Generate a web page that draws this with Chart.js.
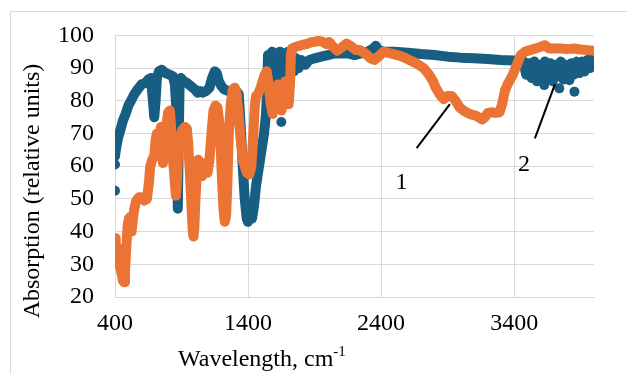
<!DOCTYPE html>
<html>
<head>
<meta charset="utf-8">
<script src="https://cdn.jsdelivr.net/npm/chart.js@4"></script>
<style>
  html, body { margin: 0; padding: 0; background: #fff; }
</style>
</head>
<body>
<canvas id="chart" width="627" height="374"></canvas>
<script>
// sample 2 (blue) - wavenumber / absorption
const blueX = [400, 410, 425, 440, 460, 480, 500, 520, 545, 570, 600, 630, 650, 670, 685, 695, 705, 715, 730, 750,
  780, 810, 835, 850, 860, 868, 872, 878, 885, 895, 915, 940, 970, 1000, 1020, 1040, 1060, 1085, 1110, 1130,
  1150, 1165, 1180, 1200, 1220, 1250, 1280, 1310, 1330, 1345, 1360, 1375, 1390, 1400, 1415, 1430, 1445, 1460, 1475, 1490,
  1505, 1520, 1535, 1545, 1550, 1565, 1580, 1595, 1610, 1625, 1640, 1655, 1670, 1685, 1700, 1715, 1730, 1745, 1760, 1780,
  1800, 1830, 1860, 1900, 1950, 2000, 2050, 2100, 2150, 2200, 2250, 2300, 2340, 2360, 2380, 2420, 2500, 2600, 2700, 2800,
  2900, 3000, 3100, 3200, 3300, 3400, 3450, 3470, 3490, 3510, 3530, 3550, 3570, 3590, 3610, 3630, 3650, 3670, 3690, 3710,
  3730, 3750, 3770, 3790, 3810, 3830, 3850, 3870, 3890, 3910, 3930, 3950, 3970, 3990, 4000];
const blueY = [63, 66, 69, 71, 74, 76, 78.5, 80, 82, 83.5, 85, 85.5, 86.5, 87, 80, 75, 80, 87, 89, 89.5,
  88.5, 88, 87.5, 85, 78, 60, 47, 65, 84, 87, 86, 85.5, 84.5, 83.5, 82.5, 83, 82.5, 83, 84, 87,
  89, 88.5, 86, 84.5, 83.5, 83, 82.5, 83, 82, 72, 60, 50, 44, 43, 46, 44, 48, 54, 58, 62,
  66, 70, 76, 85, 94, 88, 95, 87, 94, 89, 95, 86, 94, 88, 95, 90, 94, 89, 93, 90,
  92.5, 91, 92.5, 93, 93.5, 94, 94.5, 94.5, 94.5, 94, 94.5, 95, 96, 96.8, 95.5, 95, 95, 94.7, 94.3, 94,
  93.5, 93.2, 93, 92.8, 92.5, 92.3, 92, 92, 88, 91.5, 87, 92, 86, 91, 86.5, 92, 87, 91.5, 86, 91,
  87.5, 92, 86.5, 91, 87, 91.5, 88, 92, 88.5, 92, 89, 92.5, 90, 93, 93.5];
// loose blue points
const blueDotX = [400, 400, 1650, 3576, 3626, 3739, 3815, 3853];
const blueDotY = [52.5, 60.5, 73.5, 86.3, 84.8, 83.8, 86.3, 82.8];

// sample 1 (orange)
const orangeX = [400, 405, 410, 415, 420, 425, 430, 440, 450, 460, 468, 475, 485, 495, 505, 515, 525, 535, 545, 560,
  580, 600, 620, 640, 655, 665, 680, 695, 705, 715, 725, 735, 745, 752, 760, 770, 785, 800, 812, 820,
  830, 840, 850, 858, 865, 875, 890, 905, 925, 940, 950, 960, 970, 978, 985, 990, 996, 1005, 1015, 1025,
  1040, 1055, 1065, 1080, 1095, 1110, 1125, 1140, 1155, 1170, 1185, 1195, 1205, 1215, 1225, 1235, 1245, 1255, 1270, 1285,
  1300, 1315, 1330, 1345, 1360, 1375, 1390, 1410, 1425, 1440, 1450, 1460, 1475, 1495, 1510, 1525, 1540, 1555, 1570, 1585,
  1600, 1615, 1625, 1640, 1650, 1660, 1670, 1680, 1695, 1705, 1715, 1722, 1730, 1760, 1800, 1850, 1880, 1900, 1930, 1960,
  1990, 2010, 2040, 2070, 2100, 2140, 2180, 2210, 2240, 2280, 2320, 2350, 2380, 2420, 2470, 2520, 2570, 2620, 2670, 2720,
  2760, 2790, 2810, 2840, 2870, 2900, 2930, 2960, 2990, 3020, 3050, 3080, 3110, 3140, 3160, 3180, 3200, 3230, 3260, 3290,
  3310, 3330, 3350, 3370, 3390, 3410, 3430, 3450, 3480, 3520, 3560, 3600, 3630, 3660, 3700, 3750, 3800, 3850, 3900, 3950, 4000];
const orangeY = [38, 36, 33, 31, 35, 30, 33, 29, 27, 25, 24.5, 28, 35, 42, 44, 44.5, 40, 44, 47, 49.5,
  50.5, 50.5, 49.5, 50, 55, 60, 62, 63, 68, 70, 69, 66, 72, 65, 61, 63, 72, 76.5, 77, 73,
  65, 60, 55, 51, 55, 65, 69, 71, 72, 71.5, 67, 60, 52, 45, 40, 38.5, 41, 50, 58, 62,
  60, 57, 60, 61, 58, 62, 70, 77, 78.5, 78, 73, 65, 55, 47, 43, 45, 55, 70, 79, 83.5,
  84, 82, 75, 68, 62, 60, 58, 57.5, 60, 70, 78, 81.5, 82, 84, 86, 88, 89, 85, 79, 76,
  80, 84, 85, 80, 77, 78.5, 84, 86, 84, 79, 85, 94, 96, 96.5, 97, 97.5, 98, 98, 98.3, 98,
  97.3, 98, 96.5, 95.3, 96.2, 97.5, 96.5, 95.5, 95.5, 94.5, 93, 92.5, 93.5, 95, 94.5, 94, 93.3, 92.3, 91.3, 90,
  88, 86, 84, 82, 80.5, 81.5, 81.5, 80, 78, 77, 76.3, 75.8, 75.5, 74.8, 74.3, 75, 76.2, 76.5, 76.3, 76.5,
  79, 83, 85, 86.5, 88, 90, 92, 94, 95, 95.5, 96, 96.5, 97, 96, 96, 96, 95.8, 96, 95.7, 95.5, 95.3];

const xTicks = [400, 1400, 2400, 3400];

// callout lines: [x1, y1, x2, y2] in data units, labels at [x, y]
const callouts = [
  { label: '1', line: [2667, 65.5, 2917, 79], at: [2553, 55] },
  { label: '2', line: [3556, 68.5, 3706, 85], at: [3473, 60.5] }
];

const BLUE = '#175e82';
const ORANGE = '#eb7434';
const GRID = '#d9d9d9';
const FONT = '"Liberation Serif", "Times New Roman", serif';

const pts = (xs, ys) => xs.map((x, i) => ({ x: x, y: ys[i] }));

const extras = {
  id: 'extras',
  beforeDraw(chart) {
    const ctx = chart.ctx;
    ctx.save();
    ctx.strokeStyle = GRID;
    ctx.lineWidth = 1;
    ctx.beginPath();
    ctx.moveTo(10.5, 374);
    ctx.lineTo(10.5, 11.5);
    ctx.lineTo(627, 11.5);
    ctx.stroke();
    ctx.restore();
  },
  afterDraw(chart) {
    const ctx = chart.ctx;
    const xs = chart.scales.x, ys = chart.scales.y;
    ctx.save();
    ctx.fillStyle = '#000';
    ctx.strokeStyle = '#000';
    ctx.lineWidth = 2;
    ctx.font = '24px ' + FONT;
    ctx.textAlign = 'center';
    ctx.textBaseline = 'middle';
    callouts.forEach(c => {
      ctx.beginPath();
      ctx.moveTo(xs.getPixelForValue(c.line[0]), ys.getPixelForValue(c.line[1]));
      ctx.lineTo(xs.getPixelForValue(c.line[2]), ys.getPixelForValue(c.line[3]));
      ctx.stroke();
      ctx.fillText(c.label, xs.getPixelForValue(c.at[0]), ys.getPixelForValue(c.at[1]));
    });

    // axis titles
    ctx.textAlign = 'left';
    ctx.textBaseline = 'alphabetic';
    const main = 'Wavelength, cm';
    ctx.fillText(main, 178, 366);
    const w = ctx.measureText(main).width;
    ctx.font = '15px ' + FONT;
    ctx.fillText('-1', 178 + w, 356);

    ctx.font = '24px ' + FONT;
    ctx.translate(33, 191);
    ctx.rotate(-Math.PI / 2);
    ctx.textAlign = 'center';
    ctx.textBaseline = 'middle';
    ctx.fillText('Absorption (relative units)', 0, 0);
    ctx.restore();
  }
};

new Chart(document.getElementById('chart'), {
  type: 'scatter',
  data: {
    datasets: [
      {
        label: 'Sample 2',
        data: pts(blueX, blueY),
        showLine: true,
        borderColor: BLUE,
        backgroundColor: BLUE,
        borderWidth: 10,
        borderCapStyle: 'round',
        borderJoinStyle: 'round',
        pointRadius: 0,
        order: 2
      },
      {
        label: 'Sample 2 points',
        data: pts(blueDotX, blueDotY),
        backgroundColor: BLUE,
        borderWidth: 0,
        pointRadius: 5,
        order: 1
      },
      {
        label: 'Sample 1',
        data: pts(orangeX, orangeY),
        showLine: true,
        borderColor: ORANGE,
        backgroundColor: ORANGE,
        borderWidth: 10,
        borderCapStyle: 'round',
        borderJoinStyle: 'round',
        pointRadius: 0,
        order: 0
      }
    ]
  },
  options: {
    responsive: false,
    animation: false,
    layout: { padding: { top: 30, right: 33, left: 0, bottom: 0 } },
    plugins: {
      legend: { display: false },
      tooltip: { enabled: false }
    },
    scales: {
      x: {
        type: 'linear',
        min: 400,
        max: 4000,
        afterBuildTicks: axis => { axis.ticks = xTicks.map(v => ({ value: v })); },
        afterFit: axis => { axis.height = 77; },
        grid: { color: GRID, lineWidth: 1, drawTicks: false },
        border: { color: GRID, width: 1 },
        ticks: {
          padding: 12,
          color: '#000',
          maxRotation: 0,
          font: { family: FONT, size: 24 },
          callback: v => String(v)
        }
      },
      y: {
        min: 20,
        max: 100,
        afterFit: axis => { axis.width = 115; },
        grid: { color: GRID, lineWidth: 1, drawTicks: false },
        border: { color: GRID, width: 1 },
        ticks: {
          stepSize: 10,
          padding: 21,
          color: '#000',
          font: { family: FONT, size: 24 }
        }
      }
    }
  },
  plugins: [extras]
});
</script>
</body>
</html>
